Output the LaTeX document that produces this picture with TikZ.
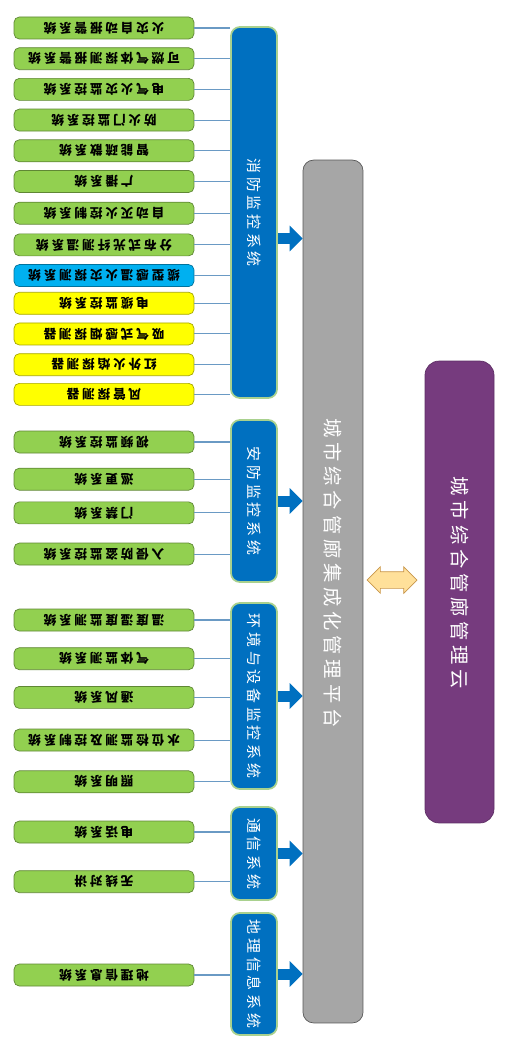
\documentclass[tikz,border=0pt]{standalone}
\usepackage{fontspec}
\usetikzlibrary{positioning, arrows.meta, shapes.arrows}
\newfontfamily\subfont[LetterSpace=22]{Noto Sans CJK SC}
\newfontfamily\grpfont[LetterSpace=25]{Noto Sans CJK SC}
\newfontfamily\topfont[LetterSpace=25]{Noto Sans CJK SC}
\definecolor{subgreen}{HTML}{92D050}
\definecolor{subblue}{HTML}{00B0F0}
\definecolor{subyellow}{HTML}{FFFF00}
\definecolor{grpblue}{HTML}{0070C0}
\definecolor{grpedge}{HTML}{A9D18E}
\definecolor{wireblue}{HTML}{6A9AC4}
\definecolor{platgray}{HTML}{A6A6A6}
\definecolor{cloudpurple}{HTML}{763B7E}
\definecolor{linkfill}{HTML}{FFE09A}
\definecolor{linkedge}{HTML}{C8964B}
\newcommand{\turnup}[1]{\rotatebox{180}{#1}}
\newcommand{\turndown}[1]{\rotatebox{-90}{#1}}

\begin{document}
\begin{tikzpicture}[
    x=0.02cm, y=-0.02cm,
    sub/.style={
        rectangle, fill=#1, draw=#1!65!black, rounded corners=3pt,
        minimum width=3.6cm, minimum height=0.44cm, inner sep=0pt,
        font=\subfont\bfseries\fontsize{7.2}{7.5}\selectfont
    },
    group/.style={
        rectangle, fill=grpblue, draw=grpedge, line width=1pt, rounded corners=5pt,
        minimum width=0.92cm, inner sep=0pt, text=white,
        font=\grpfont\fontsize{8.5}{9}\selectfont
    },
    wire/.style={draw=wireblue, line width=0.6pt},
    feed/.style={draw=grpblue, line width=0.22cm, -{Triangle[length=0.26cm, width=0.5cm]}},
    label/.style={text=white, font=\topfont\fontsize{11}{12}\selectfont}
]
\useasboundingbox (0,0) rectangle (513,1044);

%% ---- Platform and cloud ----
\node[rectangle, fill=platgray, draw=black!65, rounded corners=6pt,
      minimum width=1.2cm, minimum height=17.26cm] (platform) at (333,591.5) {};
\node[label] (platform_text) at (333,573) {\turndown{城市综合管廊集成化管理平台}};

\node[rectangle, fill=cloudpurple, draw=cloudpurple!80!black, rounded corners=8pt,
      minimum width=1.38cm, minimum height=9.24cm] (cloud) at (459.5,592) {};
\node[label] (cloud_text) at (459.5,583) {\turndown{城市综合管廊管理云}};

\node[double arrow, fill=linkfill, draw=linkedge, thin,
      minimum height=1.0cm, inner sep=0.16cm, double arrow head extend=0.1cm] (link) at (392,580) {};

%% ---- Fire monitoring ----
\node[group, minimum height=7.42cm] (fire) at (254,212.5) {\turndown{消防监控系统}};
\node[sub=subgreen] (fire1) at (104,28) {\turnup{火灾自动报警系统}};
\node[sub=subgreen, below=0.16cm of fire1] (fire2) {\turnup{可燃气体探测报警系统}};
\node[sub=subgreen, below=0.16cm of fire2] (fire3) {\turnup{电气火灾监控系统}};
\node[sub=subgreen, below=0.16cm of fire3] (fire4) {\turnup{防火门监控系统}};
\node[sub=subgreen, below=0.16cm of fire4] (fire5) {\turnup{智能疏散系统}};
\node[sub=subgreen, below=0.16cm of fire5] (fire6) {\turnup{广播系统}};
\node[sub=subgreen, below=0.18cm of fire6] (fire7) {\turnup{自动灭火控制系统}};
\node[sub=subgreen, below=0.18cm of fire7] (fire8) {\turnup{分布式光纤测温系统}};
\node[sub=subblue, below=0.16cm of fire8] (fire9) {\turnup{缆型感温火灾探测系统}};
\node[sub=subyellow, below=0.1cm of fire9] (fire10) {\turnup{电缆监控系统}};
\node[sub=subyellow, below=0.16cm of fire10] (fire11) {\turnup{吸气式感烟探测器}};
\node[sub=subyellow, below=0.16cm of fire11] (fire12) {\turnup{红外火焰探测器}};
\node[sub=subyellow, below=0.14cm of fire12] (fire13) {\turnup{风管探测器}};
\foreach \i in {1,...,13}
    \draw[wire] (fire\i.east) -- (fire\i.east -| fire.west);
\draw[feed] ([yshift=-0.52cm]fire.east) -- ([yshift=-0.52cm]fire.east -| platform.west);

%% ---- Security monitoring ----
\node[group, minimum height=3.24cm] (safe) at (254,501) {\turndown{安防监控系统}};
\node[sub=subgreen] (safe1) at (104,442) {\turnup{视频监控系统}};
\node[sub=subgreen, below=0.29cm of safe1] (safe2) {\turnup{巡更系统}};
\node[sub=subgreen, below=0.22cm of safe2] (safe3) {\turnup{门禁系统}};
\node[sub=subgreen, below=0.37cm of safe3] (safe4) {\turnup{入侵防盗监控系统}};
\foreach \i in {1,...,4}
    \draw[wire] (safe\i.east) -- (safe\i.east -| safe.west);
\draw[feed] (safe.east) -- (safe.east -| platform.west);

%% ---- Environment and equipment ----
\node[group, minimum height=3.72cm] (env) at (254,696) {\turndown{环境与设备监控系统}};
\node[sub=subgreen] (env1) at (104,620) {\turnup{温度湿度监测系统}};
\node[sub=subgreen, below=0.32cm of env1] (env2) {\turnup{气体监测系统}};
\node[sub=subgreen, below=0.32cm of env2] (env3) {\turnup{通风系统}};
\node[sub=subgreen, below=0.4cm of env3] (env4) {\turnup{水位检监测及控制系统}};
\node[sub=subgreen, below=0.38cm of env4] (env5) {\turnup{照明系统}};
\foreach \i in {1,...,5}
    \draw[wire] (env\i.east) -- (env\i.east -| env.west);
\draw[feed] (env.east) -- (env.east -| platform.west);

%% ---- Communication ----
\node[group, minimum height=1.86cm] (comm) at (254,853.5) {\turndown{通信系统}};
\node[sub=subgreen] (comm1) at (104,832) {\turnup{电话系统}};
\node[sub=subgreen, below=0.54cm of comm1] (comm2) {\turnup{无线对讲}};
\foreach \i in {1,2}
    \draw[wire] (comm\i.east) -- (comm\i.east -| comm.west);
\draw[feed] (comm.east) -- (comm.east -| platform.west);

%% ---- Geographic information ----
\node[group, minimum height=2.44cm] (geo) at (254,974) {\turndown{地理信息系统}};
\node[sub=subgreen] (geo1) at (104,975) {\turnup{地理信息系统}};
\draw[wire] (geo1.east) -- (geo1.east -| geo.west);
\draw[feed] (geo.east) -- (geo.east -| platform.west);

\end{tikzpicture}
\end{document}
